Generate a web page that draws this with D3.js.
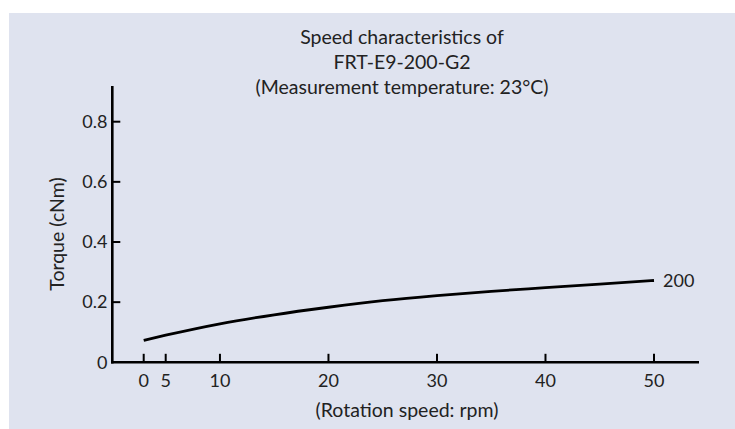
<!DOCTYPE html>
<html><head><meta charset="utf-8">
<script src="https://cdn.jsdelivr.net/npm/d3@7"></script>
<style>
html,body{margin:0;padding:0;background:#fff;}
svg{display:block;}
text{font-family:Lato,"Open Sans",sans-serif;fill:#222;}
</style></head>
<body>
<svg id="c" width="735" height="429"></svg>
<script>
// ---- data ----
const titleLines = ["Speed characteristics of", "FRT-E9-200-G2", "(Measurement temperature: 23°C)"];
const xTicks = [0, 5, 10, 20, 30, 40, 50];
const xTickLabels = ["0", "5", "10", "20", "30", "40", "50"];
const yTicks = [0, 0.2, 0.4, 0.6, 0.8];
const yTickLabels = ["0", "0.2", "0.4", "0.6", "0.8"];
const speed = [0, 5, 10, 15, 20, 25, 30, 35, 40, 45, 50];
const torque200 = [0.073, 0.090, 0.128, 0.158, 0.183, 0.205, 0.222, 0.236, 0.248, 0.260, 0.272];
const seriesName = "200";
const xLabel = "(Rotation speed: rpm)";
const yLabel = "Torque (cNm)";

// ---- layout ----
const svg = d3.select("#c");
svg.append("rect").attr("x", 9).attr("y", 13).attr("width", 726).attr("height", 416).attr("fill", "#dfe3ef");

const axX0 = 112.3, axX1 = 699, axY0 = 362.3, axYTop = 86;
const x = d3.scaleLinear().domain([0, 5, 50]).range([143.7, 165.7, 654]);
const y = d3.scaleLinear().domain([0, 0.8]).range([362.3, 121.7]);

// title
svg.append("g").selectAll("text").data(titleLines).join("text")
  .attr("x", 402).attr("y", (d, i) => 43.5 + i * 25)
  .attr("text-anchor", "middle").attr("font-size", 19.5).text(d => d);

// axes lines
svg.append("line").attr("x1", axX0).attr("x2", axX0).attr("y1", axYTop).attr("y2", axY0 + 1.2)
  .attr("stroke", "#000").attr("stroke-width", 2.6);
svg.append("line").attr("x1", axX0 - 1.2).attr("x2", axX1).attr("y1", axY0).attr("y2", axY0)
  .attr("stroke", "#000").attr("stroke-width", 2.6);

// x ticks
const gx = svg.append("g");
gx.selectAll("line").data(xTicks).join("line")
  .attr("x1", d => x(d)).attr("x2", d => x(d))
  .attr("y1", axY0).attr("y2", axY0 - 8.5)
  .attr("stroke", "#000").attr("stroke-width", 2);
gx.selectAll("text").data(xTicks).join("text")
  .attr("x", d => x(d)).attr("y", 387)
  .attr("text-anchor", "middle").attr("font-size", 18)
  .text((d, i) => xTickLabels[i]);

// y ticks
const gy = svg.append("g");
gy.selectAll("line").data(yTicks.filter(d => d > 0)).join("line")
  .attr("x1", axX0).attr("x2", axX0 + 8)
  .attr("y1", d => y(d)).attr("y2", d => y(d))
  .attr("stroke", "#000").attr("stroke-width", 2);
gy.selectAll("text").data(yTicks).join("text")
  .attr("x", 107.5).attr("y", d => y(d)).attr("dy", "0.35em")
  .attr("text-anchor", "end").attr("font-size", 18)
  .text((d, i) => yTickLabels[i]);

// axis titles
svg.append("text").attr("x", 407).attr("y", 417).attr("text-anchor", "middle")
  .attr("font-size", 19.5).text(xLabel);
svg.append("text").attr("transform", "translate(64,234) rotate(-90)")
  .attr("text-anchor", "middle").attr("font-size", 19.5).text(yLabel);

// curve
const line = d3.line().x((d, i) => x(speed[i])).y(d => y(d)).curve(d3.curveMonotoneX);
svg.append("path").datum(torque200).attr("d", line)
  .attr("fill", "none").attr("stroke", "#000").attr("stroke-width", 2.8);

svg.append("text").attr("x", x(50) + 9).attr("y", y(torque200[torque200.length - 1])).attr("dy", "0.35em")
  .attr("font-size", 18).text(seriesName);
</script>
</body></html>
